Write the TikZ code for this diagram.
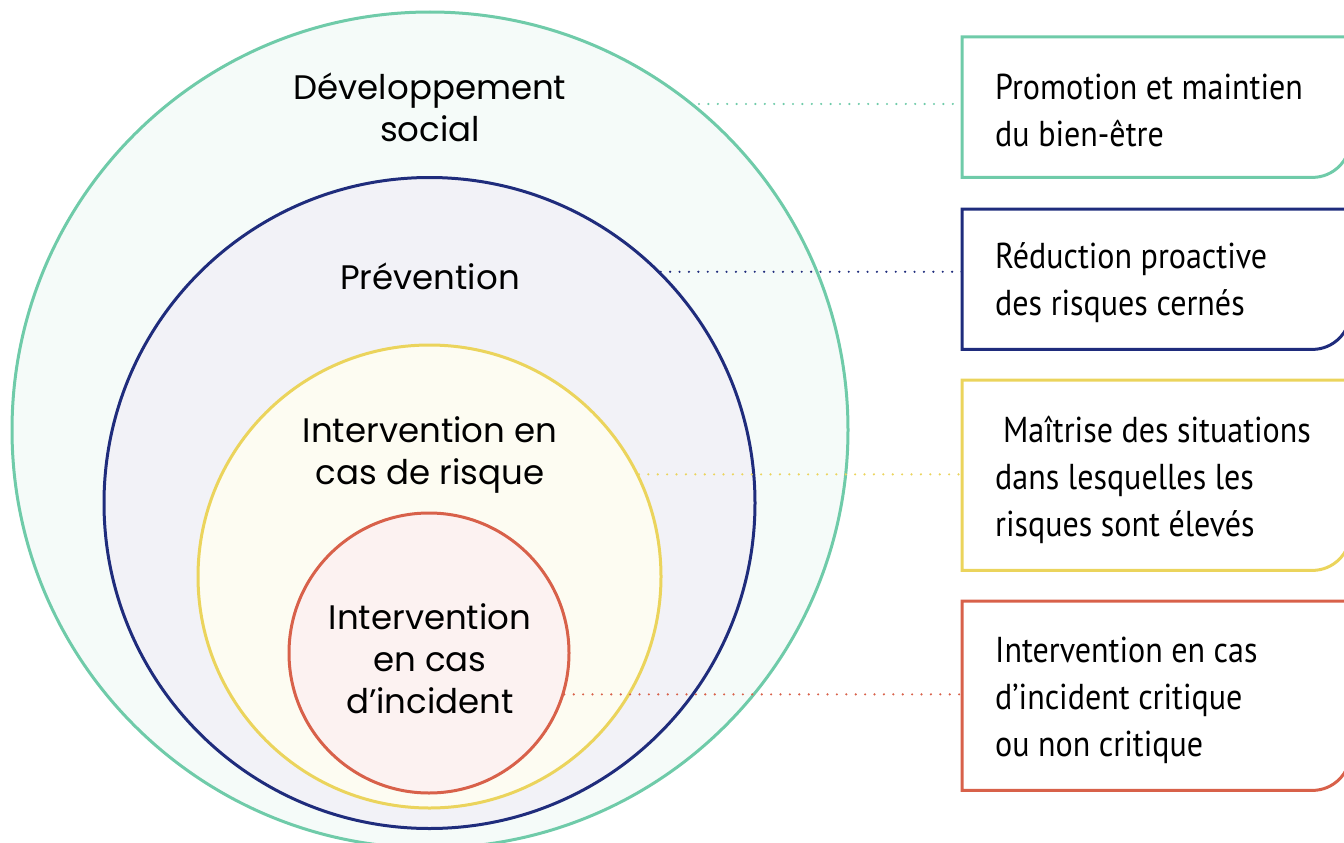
\documentclass[tikz,border=0pt]{standalone}
\usepackage{fontspec}
\usepackage{pgf,tikz}
\newfontfamily\cerclefont{Poppins}
\newfontfamily\cadrefont[FakeStretch=0.89]{PT Sans}
\definecolor{vert}{HTML}{6FCBA9}
\definecolor{marine}{HTML}{1F2C7C}
\definecolor{jaune}{HTML}{EBD45C}
\definecolor{rouge}{HTML}{D8614A}
\tikzstyle{cercle} = [circle, draw, line width=3pt, inner sep=0pt]
\tikzstyle{titre} = [font=\cerclefont\fontsize{34}{42}\selectfont, align=center, text=black]
\tikzstyle{cadre} = [rectangle, minimum width=388pt, inner sep=0pt, anchor=north west]
\tikzstyle{texte} = [font=\cadrefont\fontsize{36}{47}\selectfont, align=left, anchor=west, inner sep=0pt]
\tikzstyle{pointille} = [line width=2.4pt, line cap=round, dash pattern=on 0pt off 9.4pt]
\tikzstyle{bord} = [line width=3pt]

\begin{document}
\begin{tikzpicture}[x=1pt, y=-1pt]
	\useasboundingbox (0,0) rectangle (1344,843);
	\node[cercle, draw=vert, fill=vert!7, minimum size=836pt](social) at (430,430) {};
	\node[cercle, draw=marine, fill=marine!6, minimum size=651pt](prevention) at (429.5,503) {};
	\node[cercle, draw=jaune, fill=jaune!8, minimum size=463pt](risque) at (429.5,576.5) {};
	\node[cercle, draw=rouge, fill=rouge!8, minimum size=280pt](incident) at (429,653) {};

	\node[cadre, minimum height=140pt](bienetre) at (962,37) {};
	\node[cadre, minimum height=140pt](reduction) at (962,209) {};
	\node[cadre, minimum height=190pt](maitrise) at (962,380) {};
	\node[cadre, minimum height=189pt](critique) at (962,601) {};
	\foreach \b/\c in {bienetre/vert, reduction/marine, maitrise/jaune, critique/rouge}{
		\draw[bord, \c] (\b.north east) -- (\b.north west) -- (\b.south west) -- ([xshift=-38pt]\b.south east)
			.. controls ([xshift=-17pt]\b.south east) and ([yshift=17pt]\b.south east) .. ([yshift=38pt]\b.south east)
			-- (\b.north east);
	}

	\draw[pointille, vert, shorten <=5pt] (social.51) -- (social.51 -| bienetre.west);
	\draw[pointille, marine] (prevention.45) -- (prevention.45 -| reduction.west);
	\draw[pointille, jaune] (risque.26) -- (risque.26 -| maitrise.west);
	\draw[pointille, rouge] (incident.-17) -- (incident.-17 -| critique.west);

	\node[titre](tsocial) at (430,107) {Développement\\social};
	\node[titre, anchor=base](tprevention) at (430,289) {Prévention};
	\node[titre](trisque) at (430,455) {Intervention en\\cas de risque};
	\node[titre](tincident) at (430,659) {Intervention\\en cas\\d’incident};

	\node[texte](lbienetre) at ([shift={(33,3)}]bienetre.west) {Promotion et maintien\\du bien-être};
	\node[texte](lreduction) at ([shift={(33,3)}]reduction.west) {Réduction proactive\\des risques cernés};
	\node[texte](lmaitrise) at ([shift={(33,5)}]maitrise.west) {\hspace*{0.22em}Maîtrise des situations\\dans lesquelles les\\risques sont élevés};
	\node[texte](lcritique) at ([shift={(33,5)}]critique.west) {Intervention en cas\\d’incident critique\\ou non critique};
\end{tikzpicture}
\end{document}
